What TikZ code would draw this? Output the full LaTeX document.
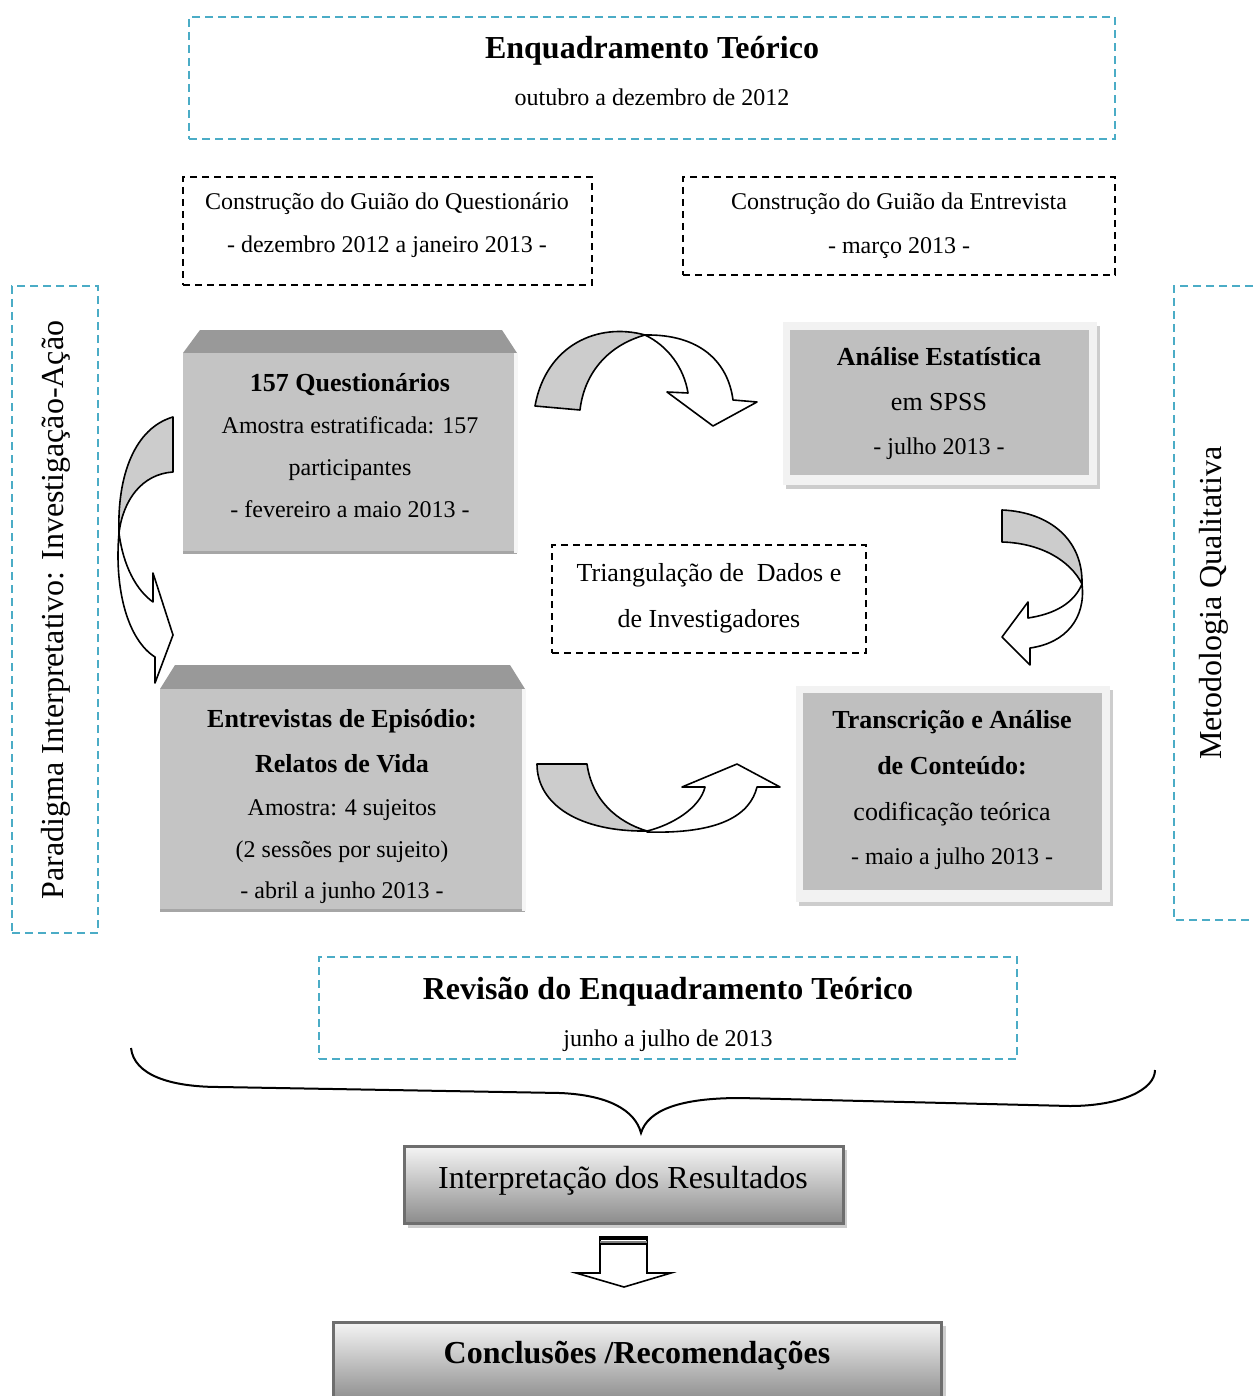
\documentclass[tikz,border=0pt]{standalone}
\usepackage{fontspec}
\setmainfont{Liberation Serif}
\usetikzlibrary{fit}
\definecolor{cy}{RGB}{75,172,198}
\definecolor{face}{RGB}{196,196,196}
\definecolor{bevel}{RGB}{153,153,153}
\definecolor{innerg}{RGB}{191,191,191}
\definecolor{frameg}{RGB}{242,242,242}
\definecolor{shad}{RGB}{205,205,205}
\definecolor{band}{RGB}{204,204,204}
\definecolor{edgeg}{RGB}{110,110,110}
\begin{document}
\begin{tikzpicture}[x=0.5pt,y=-0.5pt,
  cybox/.style={draw=cy, line width=1pt, dash pattern=on 4pt off 2.5pt, inner sep=0pt},
  bkbox/.style={draw=black, line width=1pt, dash pattern=on 3.5pt off 2.5pt, inner sep=0pt},
  plain/.style={inner sep=0pt},
  txt/.style={anchor=base, inner sep=0pt, font=\fontsize{12}{14}\selectfont},
  txtb/.style={anchor=base, inner sep=0pt, font=\fontsize{13}{15}\selectfont\bfseries},
  txtm/.style={anchor=base, inner sep=0pt, font=\fontsize{13}{15}\selectfont},
  big/.style={anchor=base, inner sep=0pt, font=\fontsize{16}{18}\selectfont},
  bigb/.style={anchor=base, inner sep=0pt, font=\fontsize{16}{18}\selectfont\bfseries},
  ribbon/.style={draw=black, line width=0.8pt, line join=round},
  gradbox/.style={draw=edgeg, line width=1.5pt, inner sep=0pt, top color=white!96!black, bottom color=black!45}
]
\useasboundingbox (0,0) rectangle (1253,1396);

% ---------- top frame ----------
\node[cybox, fit={(189,17) (1115,139)}] (teo) {};
\node[bigb] (teoT) at (652,59) {Enquadramento Teórico};
\node[txt] (teoS) at (652,106) {outubro a dezembro de 2012};

% ---------- guide boxes ----------
\node[bkbox, fit={(183,177) (592,285)}] (gq) {};
\node[txt] (gq1) at (387,210) {Construção do Guião do Questionário};
\node[txt] (gq2) at (387,252) {- dezembro 2012 a janeiro 2013 -};

\node[bkbox, fit={(683,177) (1115,275)}] (ge) {};
\node[txt] (ge1) at (899,210) {Construção do Guião da Entrevista};
\node[txt] (ge2) at (899,253) {- março 2013 -};

% ---------- side frames ----------
\node[cybox, fit={(12,286) (98,933)}] (left) {};
\node[plain, rotate=90, font=\fontsize{16}{18}\selectfont] (leftT) at (56,610) {Paradigma Interpretativo: Investigação-Ação};

\draw[draw=cy, line width=1pt, dash pattern=on 4pt off 2.5pt] (1253,286) -- (1174,286) -- (1174,920) -- (1253,920);
\node[plain, rotate=90, font=\fontsize{16}{18}\selectfont] (rightT) at (1214,603) {Metodologia Qualitativa};

% ---------- 157 Questionarios ----------
\fill[bevel] (183,353) -- (200,330) -- (502,330) -- (517,353) -- cycle;
\node[plain, fill=face, fit={(183,353) (517,553)}] (quest) {};
\fill[black!35] (183,551) rectangle (517,554);
\fill[white!85!face] (514,353) rectangle (518,553);
\node[txtb] (q1) at (350,391) {157 Questionários};
\node[txt] (q2) at (350,433) {Amostra estratificada: 157};
\node[txt] (q3) at (350,475) {participantes};
\node[txt] (q4) at (350,517) {- fevereiro a maio 2013 -};

% ---------- Analise Estatistica ----------
\fill[shad] (786,482) rectangle (1100,489);
\fill[shad] (1094,326) rectangle (1100,489);
\node[plain, fill=frameg, fit={(783,322) (1097,485)}] (anaF) {};
\node[plain, fill=innerg, fit={(790,330) (1089,475)}] (ana) {};
\node[txtb] (a1) at (939,365) {Análise Estatística};
\node[txtm] (a2) at (939,410) {em SPSS};
\node[txt] (a3) at (939,454) {- julho 2013 -};

% ---------- Triangulacao ----------
\node[bkbox, fit={(552,545) (866,653)}] (tri) {};
\node[txtm] (t1) at (709,581) {Triangulação de\hspace{0.25em} Dados e};
\node[txtm] (t2) at (709,627) {de Investigadores};

% ---------- Entrevistas ----------
\fill[bevel] (160,689) -- (175,665) -- (510,665) -- (525,689) -- cycle;
\node[plain, fill=face, fit={(160,689) (525,911)}] (entr) {};
\fill[black!35] (160,909) rectangle (525,912);
\fill[white!85!face] (522,689) rectangle (526,911);
\node[txtb] (e1) at (342,727) {Entrevistas de Episódio:};
\node[txtb] (e2) at (342,772) {Relatos de Vida};
\node[txt] (e3) at (342,815) {Amostra: 4 sujeitos};
\node[txt] (e4) at (342,857) {(2 sessões por sujeito)};
\node[txt] (e5) at (342,898) {- abril a junho 2013 -};

% ---------- Transcricao ----------
\fill[shad] (799,899) rectangle (1113,906);
\fill[shad] (1107,690) rectangle (1113,906);
\node[plain, fill=frameg, fit={(796,686) (1110,902)}] (traF) {};
\node[plain, fill=innerg, fit={(803,693) (1102,890)}] (tra) {};
\node[txtb] (r1) at (952,728) {Transcrição e Análise};
\node[txtb] (r2) at (952,774) {de Conteúdo:};
\node[txtm] (r3) at (952,820) {codificação teórica};
\node[txt] (r4) at (952,864) {- maio a julho 2013 -};

% ---------- curved arrows ----------
% top: 157 -> Analise
\draw[ribbon, fill=band] (535,406) .. controls (546,345) and (598,322) .. (645,335)
   .. controls (606,346) and (584,375) .. (580,410) -- cycle;
\draw[ribbon, fill=white] (645,335) .. controls (668,346) and (684,368) .. (688,393)
   -- (667,392) -- (713,426) -- (757,402) -- (733,400)
   .. controls (728,362) and (700,334) .. (645,335) -- cycle;
% left: 157 -> Entrevistas
\draw[ribbon, fill=band] (173,417) .. controls (135,428) and (117,475) .. (119,533)
   .. controls (123,500) and (142,474) .. (173,472) -- cycle;
\draw[ribbon, fill=white] (119,533) .. controls (123,565) and (136,590) .. (153,602)
   -- (153,573) -- (173,635) -- (155,683) -- (155,657)
   .. controls (128,640) and (114,590) .. (119,533) -- cycle;
% right: Analise -> Transcricao
\draw[ribbon, fill=band] (1002,510) .. controls (1050,512) and (1083,540) .. (1082,584)
   .. controls (1070,560) and (1040,543) .. (1002,542) -- cycle;
\draw[ribbon, fill=white] (1082,584) .. controls (1074,603) and (1055,614) .. (1028,618)
   -- (1028,602) -- (1002,637) -- (1030,665) -- (1030,648)
   .. controls (1066,643) and (1086,618) .. (1082,584) -- cycle;
% bottom: Entrevistas -> Transcricao
\draw[ribbon, fill=band] (537,764) -- (587,764) .. controls (592,800) and (617,822) .. (647,831)
   .. controls (580,832) and (537,805) .. (537,764) -- cycle;
\draw[ribbon, fill=white] (647,831) .. controls (672,825) and (700,808) .. (705,787)
   -- (682,787) -- (737,764) -- (780,787) -- (757,787)
   .. controls (750,815) and (720,834) .. (647,832) -- cycle;

% ---------- Revisao ----------
\node[cybox, fit={(319,957) (1017,1059)}] (rev) {};
\node[bigb] (rev1) at (668,999) {Revisão do Enquadramento Teórico};
\node[txt] (rev2) at (668,1046) {junho a julho de 2013};

% ---------- brace ----------
\draw[line width=1pt] (131,1048) .. controls (134,1075) and (170,1087) .. (220,1087)
   -- (560,1093) .. controls (608,1095) and (635,1110) .. (641,1133)
   .. controls (648,1110) and (680,1098) .. (740,1098)
   -- (1070,1106) .. controls (1120,1106) and (1155,1090) .. (1155,1070);

% ---------- Interpretacao ----------
\fill[shad] (408,1150) rectangle (847,1228);
\node[gradbox, fit={(404,1146) (843,1223)}] (interp) {};
\node[big] (i1) at (623,1188) {Interpretação dos Resultados};

% ---------- down arrow ----------
\draw[line width=0.8pt, fill=white, line join=miter] (600,1238) -- (600,1273) -- (576,1273) -- (624,1287)
   -- (671,1273) -- (647,1273) -- (647,1238);
\fill[black] (599,1236) rectangle (648,1240);
\draw[gray, line width=0.8pt] (600,1242) -- (647,1242);
\draw[black, line width=0.8pt] (600,1244) -- (647,1244);

% ---------- Conclusoes ----------
\fill[shad] (337,1326) rectangle (946,1400);
\node[gradbox, fit={(333,1322) (941,1402)}] (concl) {};
\node[bigb] (c1) at (637,1363) {Conclusões /Recomendações};
\end{tikzpicture}
\end{document}
